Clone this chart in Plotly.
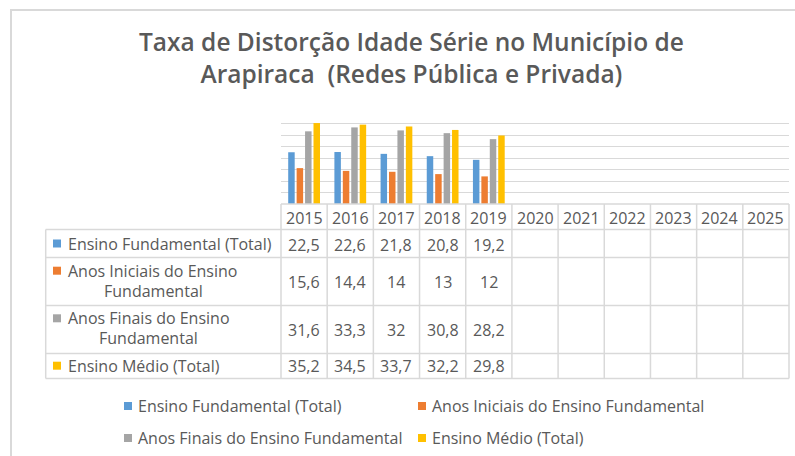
import plotly.graph_objects as go

# ---------------- data ----------------
title_text = "Taxa de Distorção Idade Série no Município de<br>Arapiraca\u00a0 (Redes Pública e Privada)"
years = [2015, 2016, 2017, 2018, 2019, 2020, 2021, 2022, 2023, 2024, 2025]
series_names = [
    "Ensino Fundamental (Total)",
    "Anos Iniciais do Ensino Fundamental",
    "Anos Finais do Ensino Fundamental",
    "Ensino Médio (Total)",
]
ef_total = [22.5, 22.6, 21.8, 20.8, 19.2, None, None, None, None, None, None]
anos_iniciais = [15.6, 14.4, 14, 13, 12, None, None, None, None, None, None]
anos_finais = [31.6, 33.3, 32, 30.8, 28.2, None, None, None, None, None, None]
ens_medio = [35.2, 34.5, 33.7, 32.2, 29.8, None, None, None, None, None, None]
series_values = [ef_total, anos_iniciais, anos_finais, ens_medio]
colors = ["#5B9BD5", "#ED7D31", "#A5A5A5", "#FFC000"]

# ---------------- geometry (pixels) ----------------
W, H = 795, 456
ML, MR, MT, MB = 281, 6, 112, 252
PW = W - ML - MR
PH = H - MT - MB
TXT = "#595959"
GRID = "#D9D9D9"
FONT = "Open Sans"
FS = 16


def px(x):
    return (x - ML) / PW


def py(y):
    return (H - MB - y) / PH


def fmt(v):
    return ("%g" % v).replace(".", ",")


fig = go.Figure()
for name, vals, col in zip(series_names, series_values, colors):
    fig.add_trace(go.Bar(x=years, y=vals, name=name, marker_color=col,
                         marker_line_width=0, showlegend=False))

shapes = []
annotations = []

# outer chart frame
shapes.append(dict(type="rect", xref="paper", yref="paper",
                   x0=px(11), x1=px(830), y0=py(10), y1=py(480),
                   line=dict(color=GRID, width=2)))

# title
annotations.append(dict(xref="paper", yref="paper", x=px(411), y=py(57), text=title_text,
                        showarrow=False, xanchor="center", yanchor="middle", align="center",
                        font=dict(family=FONT, size=24.5, color=TXT, weight=600)))

# table grid
row_lines = [229.5, 257.5, 305.5, 353.5, 378.5]
n = len(years)
shapes.append(dict(type="line", xref="paper", yref="paper", x0=0, x1=1,
                   y0=0, y1=0, line=dict(color=GRID, width=1.5)))
for ry in row_lines:
    shapes.append(dict(type="line", xref="paper", yref="paper", x0=px(45.7), x1=1,
                       y0=py(ry), y1=py(ry), line=dict(color=GRID, width=1.5)))
shapes.append(dict(type="line", xref="paper", yref="paper", x0=px(45.7), x1=px(45.7),
                   y0=py(row_lines[0]), y1=py(row_lines[-1]),
                   line=dict(color=GRID, width=1.5)))
for i in range(n + 1):
    shapes.append(dict(type="line", xref="paper", yref="paper", x0=i / n, x1=i / n,
                       y0=0, y1=py(row_lines[-1]), line=dict(color=GRID, width=1.5)))

# header years
for yr in years:
    annotations.append(dict(xref="x", yref="paper", x=yr, y=py(217.5), text=str(yr),
                            showarrow=False, xanchor="center", yanchor="middle",
                            font=dict(family=FONT, size=FS, color=TXT)))

# values
value_rows_y = [244.5, 281.5, 329.5, 365.5]
for vals, vy in zip(series_values, value_rows_y):
    for yr, v in zip(years, vals):
        if v is None:
            continue
        annotations.append(dict(xref="x", yref="paper", x=yr, y=py(vy), text=fmt(v),
                                showarrow=False, xanchor="center", yanchor="middle",
                                font=dict(family=FONT, size=FS, color=TXT)))

# row labels: (first line, second line or None, y1, y2, x-center of second line)
row_labels = [
    ("Ensino Fundamental (Total)", None, 243.5, None, None),
    ("Anos Iniciais do Ensino", "Fundamental", 270.7, 290.7, 153.5),
    ("Anos Finais do Ensino", "Fundamental", 318.3, 338.3, 148),
    ("Ensino Médio (Total)", None, 365.7, None, None),
]
SQ = 8
for (l1, l2, y1, y2, xc), col in zip(row_labels, colors):
    shapes.append(dict(type="rect", xref="paper", yref="paper",
                       x0=px(53), x1=px(53 + SQ), y0=py(y1 - SQ / 2), y1=py(y1 + SQ / 2),
                       fillcolor=col, line=dict(width=0)))
    annotations.append(dict(xref="paper", yref="paper", x=px(66), y=py(y1), text=l1,
                            showarrow=False, xanchor="left", yanchor="middle",
                            font=dict(family=FONT, size=FS, color=TXT)))
    if l2:
        annotations.append(dict(xref="paper", yref="paper", x=px(xc), y=py(y2), text=l2,
                                showarrow=False, xanchor="center", yanchor="middle",
                                font=dict(family=FONT, size=FS, color=TXT)))

# legend (bottom)
legend_pos = [(124, 406), (418, 406), (124, 438), (418, 438)]
for name, col, (lx, ly) in zip(series_names, colors, legend_pos):
    shapes.append(dict(type="rect", xref="paper", yref="paper",
                       x0=px(lx), x1=px(lx + SQ), y0=py(ly - SQ / 2), y1=py(ly + SQ / 2),
                       fillcolor=col, line=dict(width=0)))
    annotations.append(dict(xref="paper", yref="paper", x=px(lx + 12), y=py(ly), text=name,
                            showarrow=False, xanchor="left", yanchor="middle",
                            font=dict(family=FONT, size=FS, color=TXT)))

fig.update_layout(
    width=W, height=H,
    margin=dict(l=ML, r=MR, t=MT, b=MB, pad=0),
    paper_bgcolor="white", plot_bgcolor="white",
    barmode="group", bargap=0.27, bargroupgap=0.23,
    xaxis=dict(range=[years[0] - 0.5, years[-1] + 0.5], showticklabels=False,
               showgrid=False, zeroline=False, showline=False, ticks=""),
    yaxis=dict(range=[0, 40], dtick=5, showticklabels=False, showgrid=True,
               gridcolor=GRID, gridwidth=1, zeroline=False, showline=False, ticks=""),
    shapes=shapes,
    annotations=annotations,
)

fig.write_html("out.html", config={"displayModeBar": False},
               post_script="document.body.style.margin='0';")
